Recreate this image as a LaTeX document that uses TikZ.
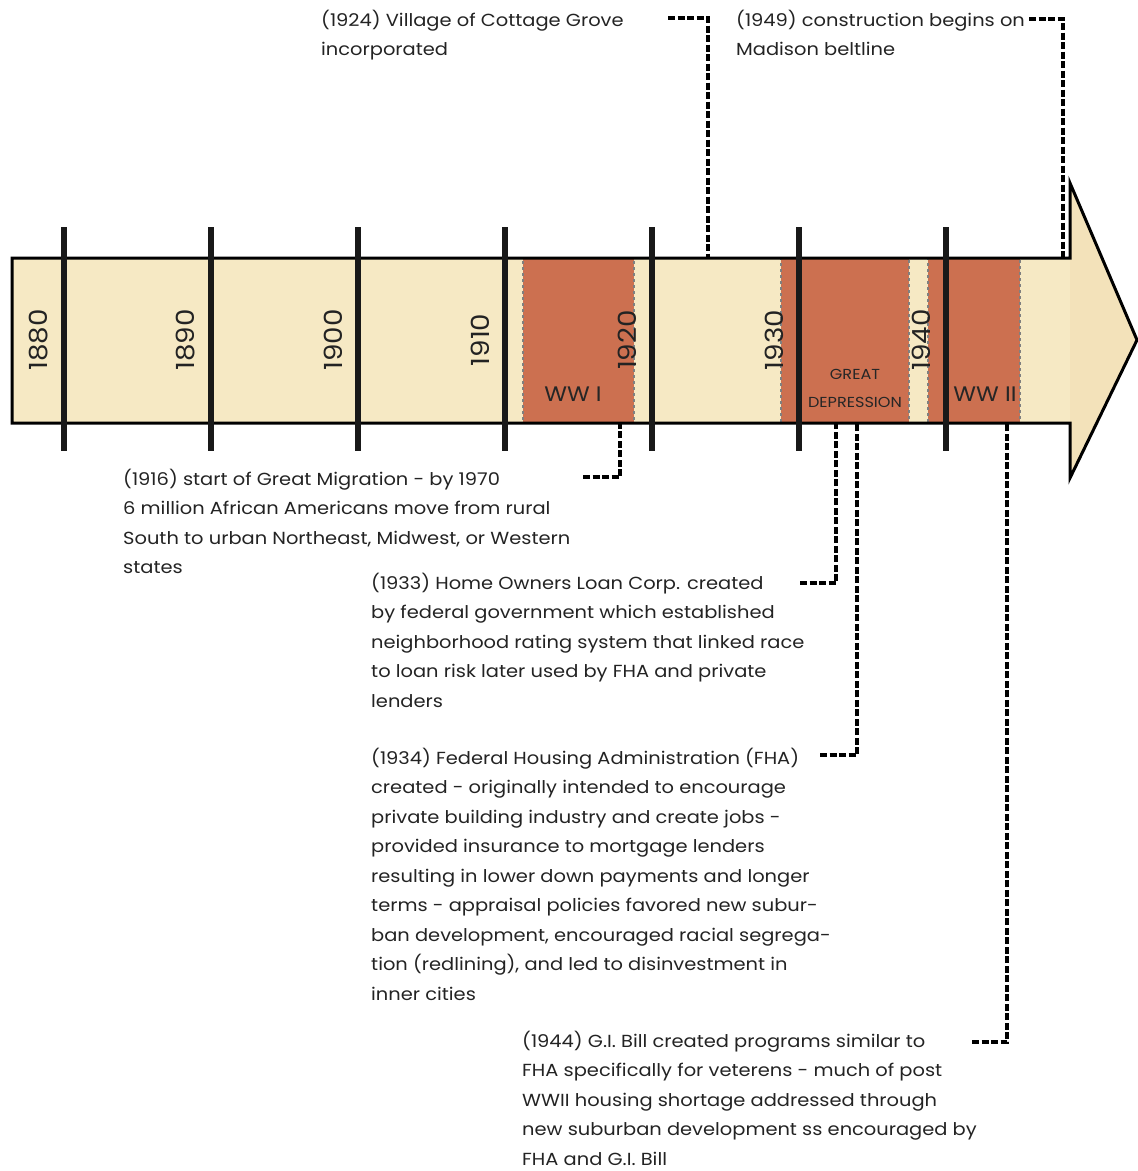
\documentclass[tikz,border=0pt]{standalone}
\usepackage{fontspec}
\setmainfont[FakeStretch=1.11]{Poppins}
\begin{document}
\definecolor{barfill}{RGB}{246,233,196}
\definecolor{headfill}{RGB}{243,226,186}
\definecolor{warfill}{RGB}{204,112,80}
\definecolor{txt}{RGB}{35,35,35}
\tikzset{
  x=1pt, y=-1pt,
  note/.style={anchor=base west, align=left, inner sep=0pt, text=txt,
    font=\fontsize{17.5}{29.5}\selectfont},
  yearlbl/.style={rotate=90, inner sep=0pt, text=txt, font=\fontsize{25}{25}\selectfont},
  warbox/.style={fill=warfill, draw=gray, dashed, line width=1.5pt},
  tick/.style={line width=5.5pt, draw=black!90},
  conn/.style={line width=4pt, draw=black, dash pattern=on 7pt off 2.5pt},
  warlbl/.style={inner sep=0pt, text=black!85, font=\fontsize{21}{21}\selectfont},
  smlbl/.style={inner sep=0pt, text=black!85, font=\fontsize{14.5}{14.5}\selectfont},
}
\begin{tikzpicture}
\useasboundingbox (0,0) rectangle (1138,1171);
% bar fill
\fill[barfill] (12,258) rectangle (1070,423);
\fill[headfill] (1070,258) -- (1070,183) -- (1137,340) -- (1070,478) -- (1070,423) -- cycle;
% war periods
\node[warbox, minimum width=111pt, minimum height=165pt, inner sep=0pt] (ww1) at (578.5,340.5) {};
\node[warbox, minimum width=128pt, minimum height=165pt, inner sep=0pt] (gd) at (845,340.5) {};
\node[warbox, minimum width=92pt, minimum height=165pt, inner sep=0pt] (ww2) at (974,340.5) {};
% outline
\draw[line width=3pt, line join=miter] (12,258) -- (1070,258) -- (1070,183) -- (1137,340) -- (1070,478) -- (1070,423) -- (12,423) -- cycle;
% ticks
\foreach \x in {64,211,358,505,652,799,946}{
  \draw[tick] (\x,227) -- (\x,451);
}
% year labels
\node[yearlbl] (y1880) at (39,340) {1880};
\node[yearlbl] (y1890) at (186,340) {1890};
\node[yearlbl] (y1900) at (333,340) {1900};
\node[yearlbl] (y1910) at (480,340) {1910};
\node[yearlbl] (y1920) at (627,340) {1920};
\node[yearlbl] (y1930) at (774,340) {1930};
\node[yearlbl] (y1940) at (921,340) {1940};
% war labels
\node[warlbl] (lww1) at (573,394) {WW I};
\node[smlbl] (lgd1) at (855,374) {GREAT};
\node[smlbl] (lgd2) at (855,402) {DEPRESSION};
\node[warlbl] (lww2) at (985,394) {WW II};
% notes (anchored at the baseline of their last line)
\node[note] (n1924) at (321,55.5) {(1924) Village of Cottage Grove\\incorporated};
\node[note] (n1949) at (736,55.5) {(1949) construction begins on\\Madison beltline};
\node[note] (n1916) at (123,573.5) {(1916) start of Great Migration - by 1970\\6 million African Americans move from rural\\South to urban Northeast, Midwest, or Western\\states};
\node[note] (n1933) at (371,707) {(1933) Home Owners Loan Corp. created\\by federal government which established\\neighborhood rating system that linked race\\to loan risk later used by FHA and private\\lenders};
\node[note] (n1934) at (371,1000) {(1934) Federal Housing Administration (FHA)\\created - originally intended to encourage\\private building industry and create jobs -\\provided insurance to mortgage lenders\\resulting in lower down payments and longer\\terms - appraisal policies favored new subur-\\ban development, encouraged racial segrega-\\tion (redlining), and led to disinvestment in\\inner cities};
\node[note] (n1944) at (522,1165) {(1944) G.I. Bill created programs similar to\\FHA specifically for veterens - much of post\\WWII housing shortage addressed through\\new suburban development ss encouraged by\\FHA and G.I. Bill};
% connector coordinates
\coordinate (s1924) at (668,18);  \coordinate (e1924) at (708,258);
\coordinate (s1949) at (1029,19); \coordinate (e1949) at (1063,258);
\coordinate (s1916) at (583,477); \coordinate (e1916) at (620,423);
\coordinate (s1933) at (800,583); \coordinate (e1933) at (836,423);
\coordinate (s1934) at (820,755); \coordinate (e1934) at (857,423);
\coordinate (s1944) at (972,1042); \coordinate (e1944) at (1007,423);
\draw[conn] (s1924) -| (e1924);
\draw[conn] (s1949) -| (e1949);
\draw[conn] (s1916) -| (e1916);
\draw[conn] (s1933) -| (e1933);
\draw[conn] (s1934) -| (e1934);
\draw[conn] (s1944) -| (e1944);
\end{tikzpicture}
\end{document}
